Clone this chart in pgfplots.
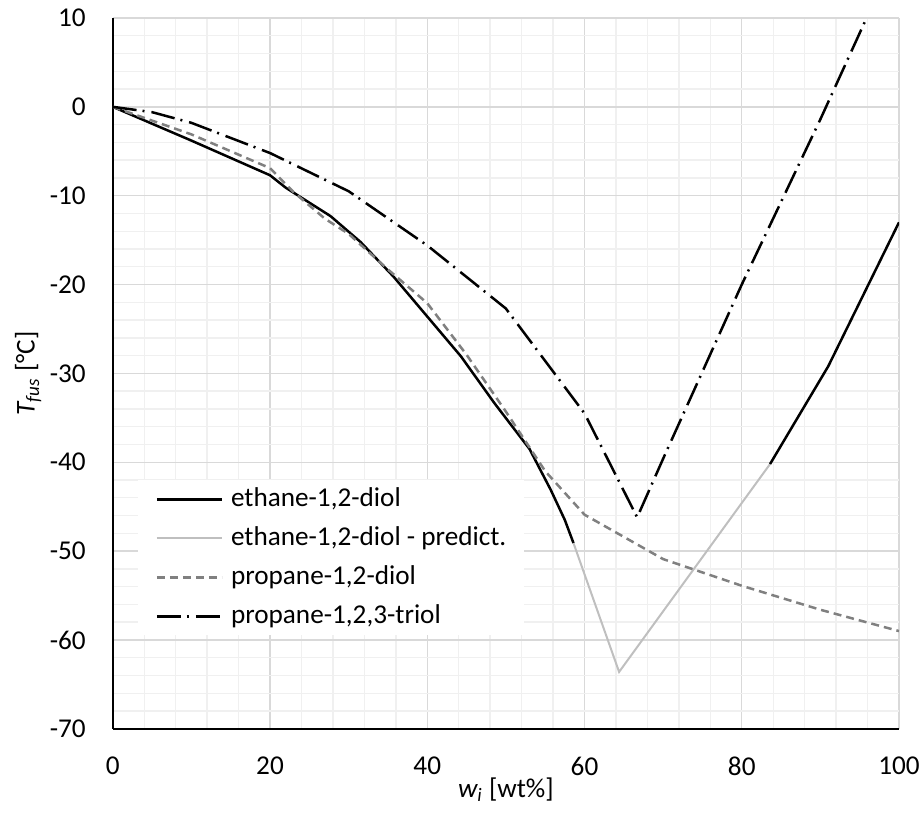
\documentclass[border=0pt]{standalone}
\usepackage{fontspec}
\setmainfont{Carlito}
\usepackage{pgfplots}
\pgfplotsset{compat=1.18}

\definecolor{majgrid}{HTML}{D9D9D9}
\definecolor{mingrid}{HTML}{F0F0F0}
\definecolor{predgray}{HTML}{BFBFBF}
\definecolor{dashgray}{HTML}{808080}

\newcommand{\fs}{\fontsize{13.6}{16.5}\selectfont}

\begin{document}
\begin{tikzpicture}
  \begin{axis}[
    scale only axis,
    width=393.2pt, height=355.5pt,
    xmin=0, xmax=100, ymin=-70, ymax=10,
    xtick={0,20,...,100}, ytick={-70,-60,...,10},
    minor x tick num=4, minor y tick num=4,
    grid=both,
    major grid style={majgrid, line width=0.7pt},
    minor grid style={mingrid, line width=0.7pt},
    major tick length=0pt, minor tick length=0pt,
    axis lines*=left,
    axis line style={-, black, line width=1.1pt},
    /pgf/number format/assume math mode=true,
    tick label style={font=\fs},
    xticklabel style={inner sep=0pt, anchor=north, yshift=-14pt},
    yticklabel style={inner sep=0pt, anchor=east, xshift=-13.3pt},
    xlabel={{\itshape w}\textsubscript{\itshape i} [wt\%]},
    ylabel={{\itshape T}\textsubscript{\itshape fus} [°C]},
    xlabel style={font=\fs, at={(axis description cs:0.5,-0.0858)}, anchor=center},
    ylabel style={font=\fs, at={(axis description cs:-0.1076,0.5)}, anchor=center, rotate=0},
    legend style={at={(rel axis cs:0.031,0.350)}, anchor=north west,
      draw=none, fill=white, font=\fs,
      inner xsep=9pt, inner ysep=3pt, row sep=6.5pt,
      nodes={inner sep=0pt, text height=10pt, text depth=3pt},
      /tikz/column sep=4pt},
    legend cell align=left,
    legend image code/.code={\draw[#1] (0pt,0pt) -- (32.5pt,0pt);},
  ]
    % ethane-1,2-diol (measured, low concentration branch)
    \addplot[black, line width=1.25pt] coordinates {
      (0,0) (10,-3.8) (20,-7.7) (22,-9.1) (27.7,-12.3) (31.5,-15.2)
      (35.7,-19.1) (40,-23.6) (44.3,-28.1) (48.5,-33.3) (53,-38.5)
      (55.7,-43.1) (57.5,-46.5) (58.6,-49.1)
    };
    \addlegendentry{ethane-1,2-diol}
    % ethane-1,2-diol prediction
    \addplot[predgray, line width=1pt] coordinates {
      (58.6,-49.1) (64.4,-63.6) (83.6,-40.2)
    };
    \addlegendentry{ethane-1,2-diol - predict.}
    % propane-1,2-diol
    \addplot[dashgray, line width=1.25pt, dash pattern=on 4pt off 2.5pt] coordinates {
      (0,0) (10,-3.1) (20,-6.9) (23,-9.6) (27,-12.6) (30,-14.3) (35,-18.3)
      (40,-22.1) (45,-27.9) (50,-34.3) (55,-41) (60,-45.9) (64,-47.9)
      (70,-50.9) (80,-53.9) (90,-56.6) (100,-59)
    };
    \addlegendentry{propane-1,2-diol}
    % propane-1,2,3-triol
    \addplot[black, line width=1.25pt, dash pattern=on 12pt off 3pt on 1pt off 3.5pt] coordinates {
      (0,0) (5,-0.6) (10,-1.8) (20,-5.2) (30,-9.5) (40,-15.6) (50,-22.7)
      (60,-34.5) (66.7,-46.2) (70,-39.6) (80,-20) (90,-1.4) (100,18)
    };
    \addlegendentry{propane-1,2,3-triol}
    % ethane-1,2-diol (measured, high concentration branch)
    \addplot[black, line width=1.25pt, forget plot] coordinates {
      (83.6,-40.2) (91,-29.2) (100,-13)
    };
    \coordinate (sw) at (rel axis cs:0,0);
    \coordinate (ne) at (rel axis cs:1,1);
  \end{axis}
  \pgfresetboundingbox
  \path[use as bounding box] ([shift={(-56.4pt,-42pt)}]sw) rectangle ([shift={(11.5pt,9pt)}]ne);
\end{tikzpicture}
\end{document}
